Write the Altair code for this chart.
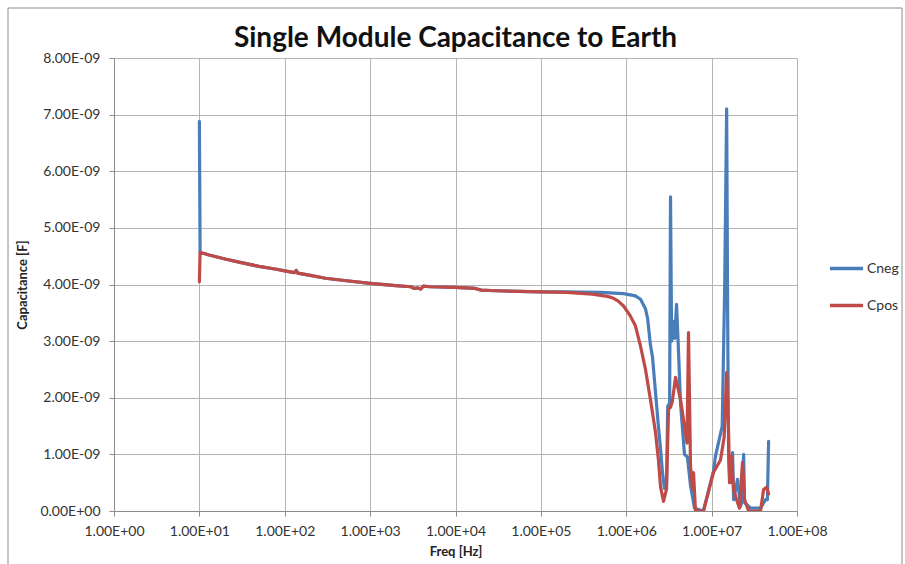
import altair as alt
import pandas as pd

# Measured capacitance to earth, frequency in Hz, capacitance in nF
cneg_freq = [10, 10.2, 13, 20, 30, 50, 80, 100, 130, 136, 142, 200, 300, 500,
             1000, 2000, 3000, 3300, 3600, 3900, 4200, 5000, 10000, 17000, 20000,
             30000, 1e5, 2e5, 5e5, 9.3e5, 1.28e6, 1.47e6, 1.68e6, 1.78e6, 1.92e6,
             2.03e6, 2.20e6, 2.38e6, 2.52e6, 2.65e6, 2.80e6, 2.96e6, 3.06e6,
             3.22e6, 3.30e6, 3.40e6, 3.55e6, 3.70e6, 3.88e6, 4.05e6, 4.32e6,
             4.81e6, 5.21e6, 5.66e6, 6.30e6, 8.0e6, 1.05e7, 1.11e7, 1.33e7,
             1.42e7, 1.50e7, 1.54e7, 1.58e7, 1.62e7, 1.67e7, 1.76e7, 1.81e7,
             2.01e7, 2.18e7, 2.30e7, 2.37e7, 2.43e7, 2.86e7, 3.74e7, 4.29e7,
             4.50e7, 4.65e7]
cneg_nf = [6.88, 4.57, 4.52, 4.45, 4.39, 4.32, 4.27, 4.24, 4.21, 4.25, 4.20,
           4.16, 4.11, 4.07, 4.02, 3.98, 3.96, 3.93, 3.94, 3.92, 3.97, 3.96,
           3.95, 3.93, 3.90, 3.89, 3.87, 3.87, 3.86, 3.84, 3.80, 3.74, 3.57,
           3.40, 2.93, 2.72, 2.10, 1.50, 1.10, 0.70, 0.40, 0.45, 1.85, 1.90,
           5.55, 3.00, 3.35, 3.05, 3.65, 3.00, 1.90, 1.00, 0.95, 0.45, 0.05,
           0.00, 0.70, 0.97, 1.50, 3.90, 7.10, 3.50, 0.97, 0.60, 0.50, 1.03,
           0.20, 0.56, 0.08, 0.20, 1.00, 0.15, 0.05, 0.05, 0.20, 0.20, 1.23]

cpos_freq = [10, 10.2, 13, 20, 30, 50, 80, 100, 130, 136, 142, 200, 300, 500,
             1000, 2000, 3000, 3300, 3600, 3900, 4200, 5000, 10000, 17000, 20000,
             30000, 1e5, 2e5, 4e5, 6e5, 7e5, 8e5, 9.3e5, 1.1e6, 1.28e6, 1.47e6,
             1.68e6, 1.92e6, 2.20e6, 2.38e6, 2.52e6, 2.73e6, 2.96e6, 3.13e6,
             3.30e6, 3.45e6, 3.78e6, 4.32e6, 4.81e6, 5.15e6, 5.36e6, 5.66e6,
             5.97e6, 6.14e6, 6.47e6, 8.04e6, 1.05e7, 1.27e7, 1.40e7, 1.50e7,
             1.58e7, 1.62e7, 1.71e7, 1.81e7, 1.96e7, 2.12e7, 2.30e7, 2.43e7,
             2.71e7, 3.74e7, 4.06e7, 4.41e7, 4.65e7]
cpos_nf = [4.05, 4.57, 4.52, 4.45, 4.39, 4.32, 4.27, 4.24, 4.21, 4.25, 4.20,
           4.16, 4.11, 4.07, 4.02, 3.98, 3.96, 3.93, 3.94, 3.92, 3.97, 3.96,
           3.95, 3.93, 3.90, 3.89, 3.87, 3.86, 3.83, 3.79, 3.76, 3.71, 3.62,
           3.46, 3.27, 2.91, 2.50, 1.97, 1.39, 0.91, 0.43, 0.17, 0.38, 1.80,
           1.83, 1.92, 2.36, 1.97, 1.50, 1.20, 3.15, 0.79, 0.38, 0.68, 0.00,
           0.00, 0.68, 0.90, 1.30, 2.45, 1.39, 0.50, 0.97, 0.38, 0.20, 0.05,
           0.86, 0.20, 0.00, 0.00, 0.38, 0.42, 0.30]

series_names = ["Cneg", "Cpos"]
series_colors = ["#4a7ebb", "#be4b48"]

x_ticks = [1, 10, 100, 1e3, 1e4, 1e5, 1e6, 1e7, 1e8]
y_ticks_nf = [0, 1, 2, 3, 4, 5, 6, 7, 8]

FONT = "Lato"
GRID = "#b4b4b4"

rows = []
for f, v in zip(cneg_freq, cneg_nf):
    rows.append({"freq": f, "cap": v * 1e-9, "series": "Cneg"})
for f, v in zip(cpos_freq, cpos_nf):
    rows.append({"freq": f, "cap": v * 1e-9, "series": "Cpos"})
df = pd.DataFrame(rows)
df["idx"] = range(len(df))

lines = alt.Chart(df).mark_line(
    strokeWidth=3.2, strokeJoin="round", strokeCap="round", clip=True
).encode(
    x=alt.X(
        "freq:Q",
        scale=alt.Scale(type="log", domain=[1, 1e8], nice=False),
        axis=alt.Axis(
            values=x_ticks,
            labelExpr="'1.00E+0' + round(log(datum.value) / LN10)",
            title="Freq [Hz]",
            grid=True,
            gridColor=GRID,
            domainColor="#8c8c8c",
            tickColor="#8c8c8c",
            tickSize=5,
            labelPadding=8,
            labelFontSize=14,
            labelFont=FONT,
            labelColor="#333333",
            labelFlush=False,
            titleFont=FONT,
            titleFontSize=13,
            titleFontWeight="bold",
            titleColor="#222222",
            titlePadding=7,
        ),
    ),
    y=alt.Y(
        "cap:Q",
        scale=alt.Scale(domain=[0, 8e-9], nice=False),
        axis=alt.Axis(
            values=[v * 1e-9 for v in y_ticks_nf],
            labelExpr="datum.value == 0 ? '0.00E+00' : format(datum.value * 1e9, '.2f') + 'E-09'",
            title="Capacitance  [F]",
            grid=True,
            gridColor=GRID,
            domainColor="#8c8c8c",
            tickColor="#8c8c8c",
            tickSize=5,
            labelPadding=9,
            labelFontSize=14,
            labelFont=FONT,
            labelColor="#333333",
            titleFont=FONT,
            titleFontSize=13,
            titleFontWeight="bold",
            titleColor="#222222",
            titlePadding=10,
        ),
    ),
    color=alt.Color(
        "series:N",
        scale=alt.Scale(domain=series_names, range=series_colors),
        legend=alt.Legend(
            title=None,
            orient="none",
            legendX=714,
            legendY=192,
            symbolType="stroke",
            symbolSize=1100,
            symbolStrokeWidth=3.5,
            labelFontSize=14,
            labelFont=FONT,
            labelColor="#333333",
            rowPadding=11,
            labelOffset=2,
        ),
    ),
    order="idx:Q",
)

# Outer chart frame
frame = alt.Chart(alt.Data(values=[{}])).mark_rect(
    fillOpacity=0, stroke="#8c8c8c", strokeWidth=1
).encode(
    x=alt.value(-106), x2=alt.value(788), y=alt.value(-50), y2=alt.value(520)
)

chart = alt.layer(frame, lines).properties(
    width=683,
    height=453,
    title=alt.TitleParams(
        "Single Module Capacitance to Earth",
        font=FONT,
        fontSize=28,
        fontWeight="bold",
        color="#111111",
        anchor="middle",
        frame="group",
        baseline="alphabetic",
        offset=0,
        dy=67,
    ),
    autosize=alt.AutoSizeParams(type="none"),
    padding={"left": 114, "top": 58, "right": 108, "bottom": 53},
).configure_view(stroke=None).configure(background="white")

chart.save("out.html", embed_options={"renderer": "svg", "actions": False})
